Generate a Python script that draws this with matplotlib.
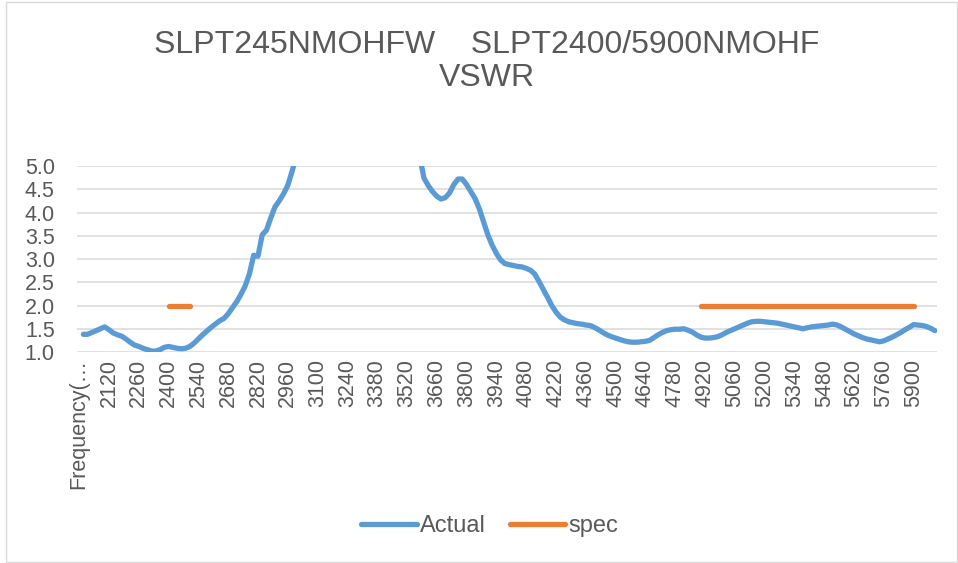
import numpy as np
import matplotlib.pyplot as plt
from matplotlib.patches import Rectangle

plt.rcParams["font.family"] = ["Liberation Sans", "DejaVu Sans"]

# category axis: header cell + 2000..6000 MHz in 20 MHz steps
header = "Frequency(…"
freqs = list(range(2000, 6001, 20))

actual = [
    1.38, 1.38, 1.42, 1.46, 1.50, 1.54, 1.48, 1.41, 1.37, 1.34,
    1.28, 1.21, 1.15, 1.12, 1.08, 1.05, 1.02, 1.02, 1.05, 1.10,
    1.12, 1.10, 1.08, 1.07, 1.08, 1.12, 1.19, 1.28, 1.37, 1.45,
    1.53, 1.60, 1.67, 1.72, 1.82, 1.95, 2.08, 2.24, 2.42, 2.68,
    3.08, 3.06, 3.52, 3.62, 3.88, 4.12, 4.25, 4.40, 4.58, 4.88,
    5.20, 5.60, 6.10, 6.70, 7.30, 8.00, 8.60, 9.20, 9.70, 10.1,
    10.4, 10.6, 10.7, 10.6, 10.4, 10.1, 9.70, 9.30, 8.80, 8.30,
    7.80, 7.30, 6.90, 6.50, 6.20, 5.90, 5.70, 5.50, 5.35, 5.20,
    4.74, 4.58, 4.45, 4.35, 4.29, 4.32, 4.42, 4.60, 4.72, 4.72,
    4.60, 4.45, 4.30, 4.08, 3.80, 3.52, 3.30, 3.12, 2.98, 2.90,
    2.88, 2.86, 2.84, 2.83, 2.80, 2.76, 2.68, 2.52, 2.35, 2.18,
    2.00, 1.86, 1.75, 1.69, 1.65, 1.63, 1.61, 1.60, 1.58, 1.57,
    1.53, 1.48, 1.42, 1.37, 1.33, 1.30, 1.27, 1.24, 1.22, 1.21,
    1.21, 1.22, 1.23, 1.25, 1.31, 1.37, 1.42, 1.46, 1.48, 1.49,
    1.49, 1.50, 1.47, 1.43, 1.37, 1.32, 1.30, 1.30, 1.31, 1.33,
    1.37, 1.42, 1.46, 1.50, 1.54, 1.58, 1.62, 1.65, 1.66, 1.66,
    1.65, 1.64, 1.63, 1.62, 1.60, 1.58, 1.56, 1.54, 1.52, 1.50,
    1.52, 1.54, 1.55, 1.56, 1.57, 1.58, 1.60, 1.58, 1.54, 1.49,
    1.44, 1.39, 1.35, 1.31, 1.28, 1.26, 1.24, 1.22, 1.24, 1.28,
    1.32, 1.37, 1.42, 1.48, 1.53, 1.59, 1.58, 1.57, 1.55, 1.51,
    1.46,
]

spec_bands = [(2400, 2500), (4900, 5900)]
spec_value = 2.0

categories = [header] + [str(f) for f in freqs]
f_arr = np.array(freqs)
spec = np.full(len(freqs), np.nan)
for lo, hi in spec_bands:
    spec[(f_arr >= lo) & (f_arr <= hi)] = spec_value

x = np.arange(1, len(freqs) + 1)

blue = "#5B9BD5"
orange = "#ED7D31"
grey_txt = "#595959"

fig = plt.figure(figsize=(9.58, 5.63), dpi=100)
ax = fig.add_axes([77 / 958, 1 - 352 / 563, 860 / 958, 186 / 563])

ax.plot(x, actual, color=blue, lw=3.8, solid_capstyle="round",
        solid_joinstyle="round", label="Actual")
ax.plot(x, spec, color=orange, lw=3.8, solid_capstyle="round", label="spec")

ax.set_xlim(-0.5, len(categories) - 0.5)
ax.set_ylim(1.0, 5.0)
ax.set_yticks(np.arange(1.0, 5.01, 0.5))
ax.set_yticklabels([f"{v:.1f}" for v in np.arange(1.0, 5.01, 0.5)])
tick_idx = list(range(0, len(categories), 7))
ax.set_xticks(tick_idx)
ax.set_xticklabels([categories[i] for i in tick_idx], rotation=90,
                   ha="center", va="top")
ax.tick_params(axis="both", length=0, labelsize=15.5, colors=grey_txt)
ax.tick_params(axis="y", pad=16)
ax.tick_params(axis="x", pad=5)

ax.grid(axis="y", color="#D9D9D9", lw=1.1)
ax.set_axisbelow(True)
for s in ax.spines.values():
    s.set_visible(False)

fig.text(487 / 958, 1 - 45 / 563, "SLPT245NMOHFW    SLPT2400/5900NMOHF",
         ha="center", va="center", fontsize=23, color=grey_txt)
fig.text(487 / 958, 1 - 78 / 563, "VSWR",
         ha="center", va="center", fontsize=23, color=grey_txt)

leg = ax.legend(loc="center", bbox_to_anchor=(490 / 958, 1 - 526 / 563),
                bbox_transform=fig.transFigure, ncol=2, frameon=False,
                fontsize=17, handlelength=2.35, handletextpad=0.15,
                columnspacing=1.0)
for t in leg.get_texts():
    t.set_color(grey_txt)

fig.patches.append(Rectangle((6 / 958, 1 / 563), 951 / 958, 560 / 563,
                             transform=fig.transFigure, fill=False,
                             ec="#D9D9D9", lw=1.0))

fig.savefig("out.png", dpi=100)
